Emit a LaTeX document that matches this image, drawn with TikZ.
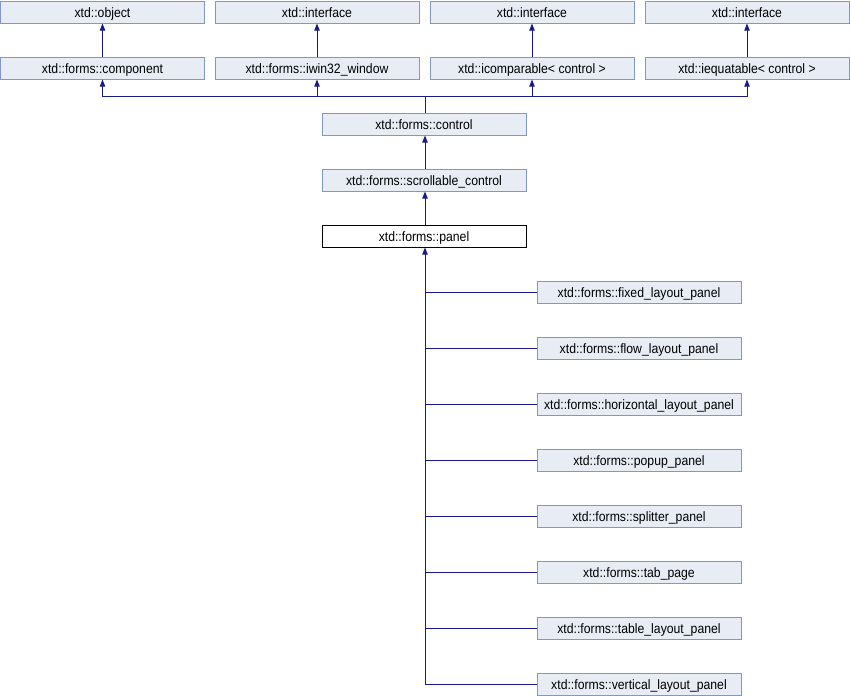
\documentclass[tikz,border=0pt]{standalone}
\usepackage{fontspec}
\setmainfont{Liberation Sans}
\newfontfamily\diafont{Liberation Sans}[FakeStretch=0.9]
\usetikzlibrary{arrows.meta}
\definecolor{boxfill}{HTML}{E8ECF5}
\definecolor{boxline}{HTML}{7E98C9}
\definecolor{edgecol}{HTML}{1A1A90}
\tikzset{
  cls/.style={draw=boxline, fill=boxfill, line width=0.75pt, minimum width=153pt,
    minimum height=16.5pt, inner sep=0pt, text height=7.5pt, text depth=0pt,
    font=\diafont\fontsize{10.2pt}{12pt}\selectfont},
  cur/.style={cls, draw=black, fill=white},
  inh/.style={draw=edgecol, line width=0.75pt, -{Triangle[length=5.25pt,width=4pt]}},
  lnk/.style={draw=edgecol, line width=0.75pt},
}
\begin{document}
\begin{tikzpicture}[x=0.75pt,y=-0.75pt]
\useasboundingbox (0,0) rectangle (850,696);
% top row: root classes
\node[cls] (obj)  at (102.5,12) {xtd::object};
\node[cls] (if1)  at (317,12) {xtd::interface};
\node[cls] (if2)  at (532,12) {xtd::interface};
\node[cls] (if3)  at (747,12) {xtd::interface};
% second row
\node[cls] (comp) at (102.5,68) {xtd::forms::component};
\node[cls] (iwin) at (317,68) {xtd::forms::iwin32\_window};
\node[cls] (icmp) at (532,68) {xtd::icomparable< control >};
\node[cls] (ieq)  at (747,68) {xtd::iequatable< control >};
% main chain
\node[cls] (ctrl) at (424,124) {xtd::forms::control};
\node[cls] (scr)  at (424,180) {xtd::forms::scrollable\_control};
\node[cur] (pan)  at (424,236) {xtd::forms::panel};
% derived panels
\foreach \n/\t [count=\i from 0] in {
  fix/fixed\_layout\_panel, flow/flow\_layout\_panel,
  hor/horizontal\_layout\_panel, pop/popup\_panel,
  spl/splitter\_panel, tab/tab\_page,
  tbl/table\_layout\_panel, ver/vertical\_layout\_panel}
  \node[cls] (\n) at (639,292+56*\i) {xtd::forms::\t};
% root inheritance
\draw[inh] (comp) -- (obj);
\draw[inh] (iwin) -- (if1);
\draw[inh] (icmp) -- (if2);
\draw[inh] (ieq) -- (if3);
% control implements four bases through a shared bus
\coordinate (bus) at (425,96);
\draw[lnk] (ctrl.north -| bus) -- (bus);
\draw[inh] (bus) -| (comp.south);
\draw[inh] (bus) -| (iwin.south);
\draw[inh] (bus) -| (icmp.south);
\draw[inh] (bus) -| (ieq.south);
\draw[inh] (scr.north -| bus) -- (ctrl.south -| bus);
\draw[inh] (pan.north -| bus) -- (scr.south -| bus);
% derived panels share one trunk
\coordinate (trunk) at (425,684);
\draw[inh] (trunk) -- (pan.south -| trunk);
\foreach \n in {fix,flow,hor,pop,spl,tab,tbl,ver}
  \draw[lnk] (\n.west) -- (\n.west -| trunk);
\end{tikzpicture}
\end{document}
